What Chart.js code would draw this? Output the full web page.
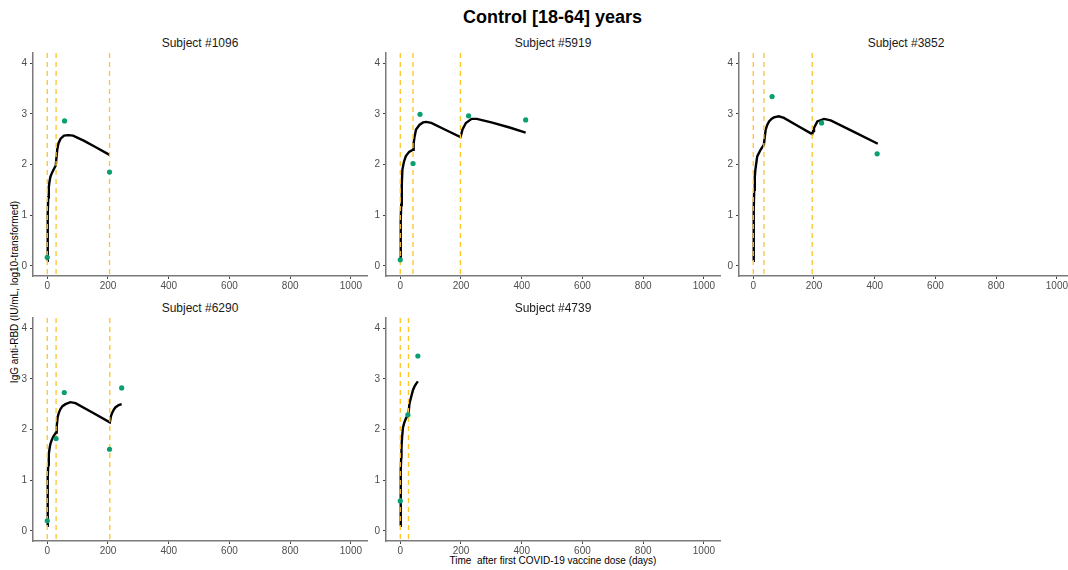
<!DOCTYPE html>
<html lang="en">
<head>
  <meta charset="UTF-8">
  <title>Control [18-64] years</title>
  <script src="https://cdn.jsdelivr.net/npm/chart.js"></script>
<style>
  body {
    margin: 0;
    width: 1068px;
    height: 570px;
    overflow: hidden;
    background: #fff;
    position: relative;
    font-family: 'Liberation Sans', Arial, sans-serif;
  }
  .main-title {
    position: absolute;
    left: 0; width: 1105px; top: 6px;
    text-align: center;
    font-size: 18px; font-weight: bold; color: #000;
    line-height: 22px;
  }
  .panel-title {
    position: absolute;
    text-align: center;
    font-size: 12px; color: #1a1a1a;
    line-height: 14px;
  }
  .panel { position: absolute; }
  .x-label {
    position: absolute;
    left: 353px; width: 400px; top: 554px;
    text-align: center; font-size: 10px; color: #000; line-height: 13px;
  }
  .y-label {
    position: absolute;
    left: 14px; top: 292px;
    width: 0; height: 0;
  }
  .y-label span {
    position: absolute;
    transform: translate(-50%, -50%) rotate(-90deg);
    white-space: nowrap; font-size: 10px; color: #000;
  }
</style>
</head>
<body>
  <div class="main-title">Control [18-64] years</div>
  <div class="x-label">Time&nbsp;&nbsp;after first COVID-19 vaccine dose (days)</div>
  <div class="y-label"><span>IgG anti-RBD (IU/mL, log10-transformed)</span></div>

  <script>
    // axis ticks (shared by every panel)
    const xTicks = [0, 200, 400, 600, 800, 1000];
    const yTicks = [0, 1, 2, 3, 4];
    const xMin = -47, xMax = 1053;
    const yMin = -0.2, yMax = 4.2;

    // Subject #1096
    const s1096Doses = [0, 29, 205];
    const s1096ObsDays = [0, 57, 205];
    const s1096ObsValues = [0.17, 2.86, 1.85];
    const s1096FitDays = [0, 1, 2, 3, 5, 7, 10, 15, 21, 28, 30, 33, 37, 44, 55, 70, 85, 120, 160, 205];
    const s1096FitValues = [0.1, 0.5, 1.0, 1.35, 1.55, 1.65, 1.75, 1.83, 1.9, 1.98, 2.12, 2.3, 2.42, 2.51, 2.57, 2.58, 2.57, 2.47, 2.34, 2.19];

    // Subject #5919
    const s5919Doses = [0, 42, 198];
    const s5919ObsDays = [0, 42, 65, 225, 413];
    const s5919ObsValues = [0.12, 2.02, 2.99, 2.96, 2.88];
    const s5919FitDays = [0, 1, 2, 3, 5, 7, 12, 18, 29, 42, 44, 47, 52, 63, 75, 85, 102, 150, 198, 201, 205, 216, 235, 252, 300, 360, 413];
    const s5919FitValues = [0.1, 0.5, 0.9, 1.2, 1.6, 1.9, 2.05, 2.16, 2.25, 2.29, 2.42, 2.55, 2.69, 2.78, 2.83, 2.84, 2.82, 2.68, 2.54, 2.6, 2.69, 2.82, 2.9, 2.9, 2.83, 2.73, 2.63];

    // Subject #3852
    const s3852Doses = [0, 35, 194];
    const s3852ObsDays = [62, 225, 408];
    const s3852ObsValues = [3.34, 2.82, 2.21];
    const s3852FitDays = [0, 1, 2, 3, 5, 7, 13, 24, 35, 38, 41, 46, 52, 60, 68, 84, 101, 150, 194, 197, 200, 211, 233, 255, 330, 410];
    const s3852FitValues = [0.1, 0.6, 1.1, 1.5, 1.75, 1.9, 2.16, 2.29, 2.39, 2.55, 2.69, 2.78, 2.85, 2.9, 2.93, 2.95, 2.92, 2.75, 2.6, 2.66, 2.72, 2.85, 2.9, 2.87, 2.65, 2.41];

    // Subject #6290
    const s6290Doses = [0, 29, 206];
    const s6290ObsDays = [0, 29, 56, 205, 245];
    const s6290ObsValues = [0.2, 1.82, 2.73, 1.61, 2.82];
    const s6290FitDays = [0, 1, 2, 3, 5, 7, 10, 14, 19, 29, 31, 34, 38, 43, 50, 60, 76, 93, 150, 206, 208, 210, 214, 220, 225, 235, 245];
    const s6290FitValues = [0.1, 0.5, 1.05, 1.3, 1.52, 1.6, 1.71, 1.78, 1.85, 1.94, 2.05, 2.24, 2.33, 2.4, 2.46, 2.5, 2.54, 2.52, 2.33, 2.14, 2.2, 2.27, 2.33, 2.4, 2.44, 2.48, 2.5];

    // Subject #4739
    const s4739Doses = [0, 27];
    const s4739ObsDays = [0, 25, 58];
    const s4739ObsValues = [0.59, 2.29, 3.45];
    const s4739FitDays = [0, 1, 2, 3, 4, 6, 9, 13, 18, 27, 30, 34, 38, 42, 47, 52, 58];
    const s4739FitValues = [0.1, 0.6, 1.19, 1.45, 1.65, 1.85, 2.04, 2.13, 2.21, 2.31, 2.5, 2.6, 2.69, 2.78, 2.85, 2.9, 2.95];

    const panels = [
      { name: 'Subject #1096', doses: s1096Doses, obsX: s1096ObsDays, obsY: s1096ObsValues, fitX: s1096FitDays, fitY: s1096FitValues, col: 0, row: 0 },
      { name: 'Subject #5919', doses: s5919Doses, obsX: s5919ObsDays, obsY: s5919ObsValues, fitX: s5919FitDays, fitY: s5919FitValues, col: 1, row: 0 },
      { name: 'Subject #3852', doses: s3852Doses, obsX: s3852ObsDays, obsY: s3852ObsValues, fitX: s3852FitDays, fitY: s3852FitValues, col: 2, row: 0 },
      { name: 'Subject #6290', doses: s6290Doses, obsX: s6290ObsDays, obsY: s6290ObsValues, fitX: s6290FitDays, fitY: s6290FitValues, col: 0, row: 1 },
      { name: 'Subject #4739', doses: s4739Doses, obsX: s4739ObsDays, obsY: s4739ObsValues, fitX: s4739FitDays, fitY: s4739FitValues, col: 1, row: 1 }
    ];

    // page layout of the facet grid (plot area left edge / top edge)
    const colAxisX = [33, 386, 739];
    const rowTop = [53, 318];
    const plotW = 334, plotH = 223;
    const yAxisW = 30, xAxisH = 20;

    const axisColor = '#7a7a7a';
    const tickFont = { family: "'Liberation Sans', Arial, sans-serif", size: 10 };

    function makePanel(p) {
      const axisX = colAxisX[p.col];
      const top = rowTop[p.row];

      const title = document.createElement('div');
      title.className = 'panel-title';
      title.style.left = axisX + 'px';
      title.style.width = plotW + 'px';
      title.style.top = (top - 17) + 'px';
      title.textContent = p.name;
      document.body.appendChild(title);

      const wrap = document.createElement('div');
      wrap.className = 'panel';
      const canvas = document.createElement('canvas');
      canvas.width = yAxisW + plotW;
      canvas.height = plotH + xAxisH;
      wrap.appendChild(canvas);
      document.body.appendChild(wrap);

      const datasets = [];
      // fitted curve
      datasets.push({
        type: 'line',
        data: p.fitX.map((x, i) => ({ x: x, y: p.fitY[i] })),
        borderColor: '#000',
        borderWidth: 2.4,
        pointRadius: 0,
        tension: 0,
        order: 3
      });
      // dose dates
      p.doses.forEach(d => {
        datasets.push({
          type: 'line',
          data: [{ x: d, y: yMax }, { x: d, y: yMin }],
          borderColor: '#FFC425',
          borderWidth: 1.3,
          borderDash: [5, 4],
          pointRadius: 0,
          order: 2
        });
      });
      // observed values
      datasets.push({
        type: 'scatter',
        data: p.obsX.map((x, i) => ({ x: x, y: p.obsY[i] })),
        backgroundColor: '#0A9E73',
        borderWidth: 0,
        pointRadius: 2.6,
        order: 1
      });

      const chart = new Chart(canvas.getContext('2d'), {
        type: 'scatter',
        data: { datasets: datasets },
        options: {
          responsive: false,
          maintainAspectRatio: false,
          animation: false,
          layout: { padding: 0 },
          plugins: { legend: { display: false }, tooltip: { enabled: false } },
          scales: {
            x: {
              type: 'linear', min: xMin, max: xMax,
              afterBuildTicks: s => { s.ticks = xTicks.map(v => ({ value: v })); },
              afterFit: s => { s.height = xAxisH; },
              grid: { display: true, drawOnChartArea: false, drawTicks: true, tickLength: 3, color: '#444' },
              border: { display: true, color: axisColor, width: 1.5 },
              ticks: { color: '#4d4d4d', font: tickFont, padding: 1, maxRotation: 0, callback: v => String(v) }
            },
            y: {
              type: 'linear', min: yMin, max: yMax,
              afterBuildTicks: s => { s.ticks = yTicks.map(v => ({ value: v })); },
              afterFit: s => { s.width = yAxisW; },
              grid: { display: true, drawOnChartArea: false, drawTicks: true, tickLength: 3, color: '#444' },
              border: { display: true, color: axisColor, width: 1.5 },
              ticks: { color: '#4d4d4d', font: tickFont, padding: 3, callback: v => String(v) }
            }
          }
        }
      });

      // grow the canvas so the plot area gets exactly plotW x plotH, then place it
      let a = chart.chartArea;
      const w = canvas.width + (plotW - (a.right - a.left));
      const h = canvas.height + (plotH - (a.bottom - a.top));
      chart.resize(w, h);
      a = chart.chartArea;
      wrap.style.left = (axisX - a.left) + 'px';
      wrap.style.top = (top - a.top) + 'px';
    }

    panels.forEach(makePanel);
  </script>
</body>
</html>
